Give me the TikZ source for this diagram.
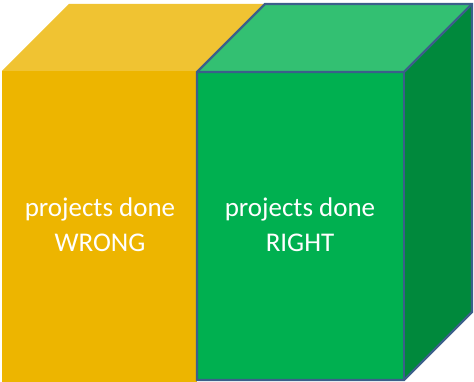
\documentclass[tikz,border=0pt]{standalone}
\usepackage{fontspec}
\setmainfont{Carlito}
\usetikzlibrary{positioning}
\definecolor{wrongfront}{RGB}{237,181,0}
\definecolor{wrongtop}{RGB}{240,195,50}
\definecolor{rightfront}{RGB}{0,176,80}
\definecolor{righttop}{RGB}{51,192,114}
\definecolor{rightside}{RGB}{0,137,60}
\definecolor{boxedge}{RGB}{59,95,138}

\begin{document}
\begin{tikzpicture}[x=1pt,y=-1pt]
		\tikzset{rim/.style = {draw=boxedge, line width=2.4pt, line join=miter}}
		\tikzset{caption/.style = {text=white, align=center, font=\fontsize{27}{35}\selectfont}}
		\useasboundingbox (0,0) rectangle (474,382);
		% corners
		\coordinate (ya) at (2,71);
		\coordinate (yb) at (69,4);
		\coordinate (yc) at (197,71);
		\coordinate (yd) at (2,382);
		\coordinate (ga) at (197,72);
		\coordinate (gb) at (265,4);
		\coordinate (gc) at (472,4);
		\coordinate (gd) at (404,72);
		\coordinate (ge) at (472,312);
		\coordinate (gf) at (404,380);
		\coordinate (gg) at (197,380);
		
		% yellow box
		\fill[wrongtop] (ya) -- (yb) -- (gb) -- (yc) -- cycle;
		\fill[wrongfront] (ya) rectangle (197,382);
		
		% green box
		\fill[righttop] (ga) -- (gb) -- (gc) -- (gd) -- cycle;
		\fill[rightside] (gd) -- (gc) -- (ge) -- (gf) -- cycle;
		\fill[rightfront] (ga) rectangle (gf);
		\draw[rim] (ga) -- (gb) -- (gc) -- (ge) -- (gf) -- (gg) -- cycle;
		\draw[rim] (ga) -- (gd) -- (gc);
		\draw[rim] (gd) -- (gf);
		
		% labels
		\node[caption] (wrong) at (100,225) {projects done\\WRONG};
		\node[caption] (right) at (300,225) {projects done\\RIGHT};
		
\end{tikzpicture}
\end{document}
